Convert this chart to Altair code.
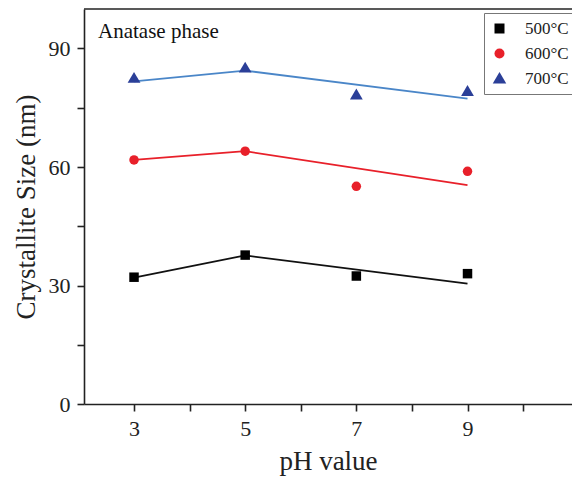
import altair as alt
import pandas as pd

ph = [3, 5, 7, 9]
series = ["500°C", "600°C", "700°C"]
size_500 = [32.1, 37.7, 32.4, 33.0]
size_600 = [61.8, 64.0, 55.1, 58.9]
size_700 = [82.5, 85.1, 78.3, 79.2]

fit_ph = [3, 5, 9]
fit_500 = [32.0, 37.6, 30.5]
fit_600 = [61.8, 64.0, 55.4]
fit_700 = [81.7, 84.4, 77.3]

point_colors = ["#000000", "#e8202a", "#2b3f98"]
line_colors = ["#111111", "#e8202a", "#4a86c8"]
shapes = ["square", "circle", "M0,-1.3L1.35,1.0L-1.35,1.0Z"]

pts = pd.DataFrame({
    "pH": ph * 3,
    "size": size_500 + size_600 + size_700,
    "series": [series[0]] * 4 + [series[1]] * 4 + [series[2]] * 4,
})
fits = pd.DataFrame({
    "pH": fit_ph * 3,
    "size": fit_500 + fit_600 + fit_700,
    "line": [series[0]] * 3 + [series[1]] * 3 + [series[2]] * 3,
})

FONT = "Liberation Serif"
W, H = 488, 395

xscale = alt.Scale(domain=[2.1, 10.88], nice=False, zero=False)
yscale = alt.Scale(domain=[0, 100], nice=False)

xaxis = alt.Axis(
    values=[3, 4, 5, 6, 7, 8, 9, 10], format="d",
    labelExpr="datum.value % 2 == 1 ? datum.label : ''",
    title="pH value", grid=False,
)
yaxis = alt.Axis(
    values=[0, 15, 30, 45, 60, 75, 90], format="d",
    labelExpr="datum.value % 30 == 0 ? datum.label : ''",
    title="Crystallite Size (nm)", grid=False,
)

legend = alt.Legend(title=None, orient="none", legendX=400, legendY=4,
                    labelFont=FONT, labelFontSize=17, labelColor="#222",
                    symbolSize=100, rowPadding=7, padding=7,
                    strokeColor="#777", labelOffset=17, symbolOpacity=1)

line_layers = []
for s, c in zip(series, line_colors):
    line_layers.append(
        alt.Chart(fits).transform_filter(alt.datum.line == s).mark_line(strokeWidth=1.8, color=c).encode(
            x=alt.X("pH:Q", scale=xscale, axis=xaxis),
            y=alt.Y("size:Q", scale=yscale, axis=yaxis),
        )
    )

points = alt.Chart(pts).mark_point(filled=True, size=90, opacity=1).encode(
    x=alt.X("pH:Q", scale=xscale, axis=xaxis),
    y=alt.Y("size:Q", scale=yscale, axis=yaxis),
    color=alt.Color("series:N", scale=alt.Scale(domain=series, range=point_colors), legend=legend),
    shape=alt.Shape("series:N", scale=alt.Scale(domain=series, range=shapes), legend=legend),
)

topline = alt.Chart(pd.DataFrame({"a": [0]})).mark_rule(color="#222", strokeWidth=1.6).encode(
    x=alt.value(0), x2=alt.value(W), y=alt.value(0)
)

label = alt.Chart(pd.DataFrame({"t": ["Anatase phase"]})).mark_text(
    font=FONT, fontSize=21, align="left", baseline="middle", color="#111"
).encode(text="t:N", x=alt.value(14), y=alt.value(23))

chart = alt.layer(*line_layers, points, topline, label).properties(
    width=W, height=H,
    autosize=alt.AutoSizeParams(type="none"),
    padding={"left": 84, "top": 9, "right": 0, "bottom": 83},
).configure_view(stroke=None).configure_axis(
    labelFont=FONT, titleFont=FONT, labelFontSize=22, titleFontSize=27,
    titleFontWeight="normal", labelColor="#222", titleColor="#222",
    domainColor="#222", domainWidth=1.6, tickColor="#222", tickWidth=1.6, tickSize=7,
    labelPadding=7,
).configure_axisX(titlePadding=9).configure_axisY(titlePadding=8)

chart.save("out.html", embed_options={"renderer": "svg", "actions": False})
